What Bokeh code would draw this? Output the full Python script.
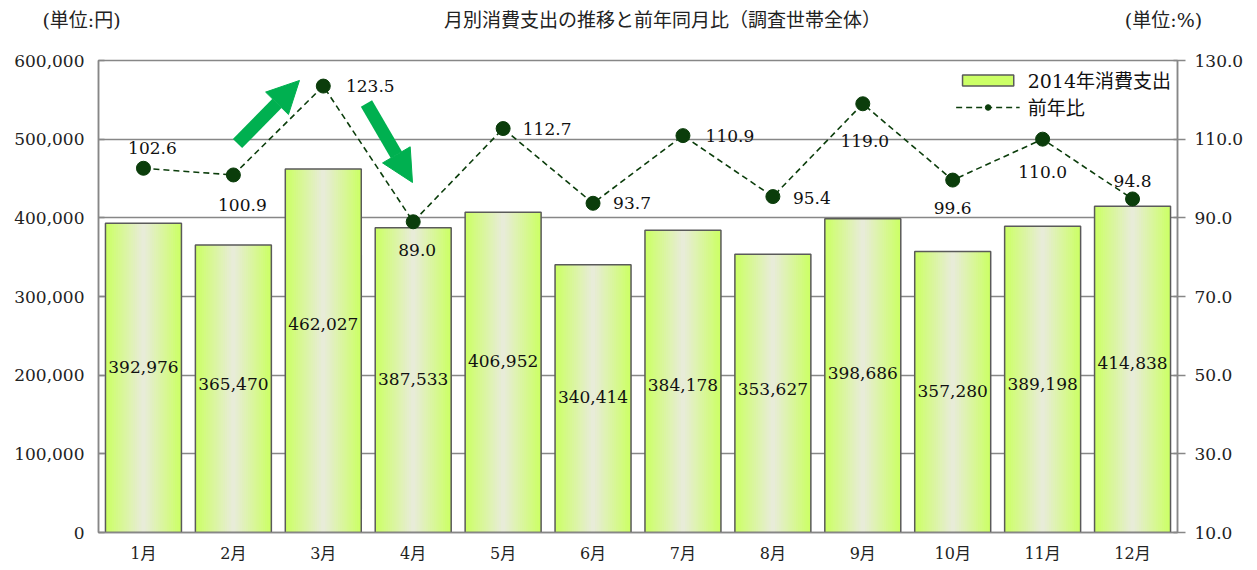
from bokeh.plotting import figure
from bokeh.models import (ColumnDataSource, Range1d, LinearAxis, FixedTicker, NumeralTickFormatter,
                          Legend, LegendItem, LabelSet, Arrow, NormalHead)
from bokeh.core.properties import value
from bokeh.embed import file_html
from bokeh.resources import INLINE

# ---- data ----
title_text = "月別消費支出の推移と前年同月比（調査世帯全体）"
unit_left = "(単位:円)"
unit_right = "(単位:%)"
months = ["1月", "2月", "3月", "4月", "5月", "6月", "7月", "8月", "9月", "10月", "11月", "12月"]
spending_2014 = [392976, 365470, 462027, 387533, 406952, 340414, 384178, 353627, 398686, 357280, 389198, 414838]
yoy_ratio = [102.6, 100.9, 123.5, 89.0, 112.7, 93.7, 110.9, 95.4, 119.0, 99.6, 110.0, 94.8]
left_ticks = [0, 100000, 200000, 300000, 400000, 500000, 600000]
right_ticks = [10, 30, 50, 70, 90, 110, 130]

# ---- style ----
FONT = "'DejaVu Serif', 'Noto Sans CJK JP'"
GRAY = "#878787"
EDGE = (204, 255, 102)
CENTER = (232, 236, 216)
BAR_W = 0.845
FS = "17px"
# label placements (screen px offsets, right/up positive)
ratio_label_dx = [9, 9, 47, 4, 44, 39, 47, 39, 2, 0, 0, 0]
ratio_label_dy = [20, -30, 0, -28, 0, 0, 0, -1, -37, -28, -33, 18]
bar_label_dy = [11, 5, 27, 1, 11, 2, -4, 4, 3, 1, -5, 6]
# header row text positions (px from the frame's left edge)
header_pos = [2, 564, 1065]

x = list(range(1, len(months) + 1))
src = ColumnDataSource(dict(
    x=x, top=spending_2014, mid=[v / 2 for v in spending_2014],
    blab=[f"{v:,}" for v in spending_2014], bdy=bar_label_dy,
    r=yoy_ratio, rlab=[f"{v:.1f}" for v in yoy_ratio], rdx=ratio_label_dx, rdy=ratio_label_dy,
))

p = figure(width=1249, height=566, output_backend="svg", toolbar_location=None,
           x_range=Range1d(0.5, 12.5), y_range=Range1d(0, 600000),
           min_border_left=98, min_border_right=72, min_border_top=60, min_border_bottom=34)
p.extra_y_ranges = {"pct": Range1d(10, 130)}
p.extra_x_ranges = {"hdr": Range1d(0, 1079)}
p.outline_line_color = GRAY
p.outline_line_width = 1.5
p.background_fill_color = "white"

# grid
p.xgrid.visible = False
p.ygrid.grid_line_color = GRAY
p.ygrid.grid_line_width = 1.5
p.ygrid.ticker = FixedTicker(ticks=left_ticks)

# left axis
ya = p.yaxis[0]
ya.ticker = FixedTicker(ticks=left_ticks)
ya.formatter = NumeralTickFormatter(format="0,0")
ya.axis_line_color = GRAY
ya.axis_line_width = 1.5
ya.major_tick_line_color = GRAY
ya.major_tick_line_width = 1.5
ya.major_tick_in = 6
ya.major_tick_out = 0
ya.minor_tick_line_color = None
ya.major_label_standoff = 14
ya.major_label_text_font = FONT
ya.major_label_text_font_size = FS
ya.major_label_text_color = "#222222"

# bottom axis
xa = p.xaxis[0]
xa.ticker = FixedTicker(ticks=x)
xa.major_label_overrides = {i: m for i, m in zip(x, months)}
xa.axis_line_color = GRAY
xa.axis_line_width = 1.5
xa.major_tick_line_color = None
xa.major_tick_in = 0
xa.major_tick_out = 0
xa.minor_tick_line_color = None
xa.major_label_standoff = 11
xa.major_label_text_font = FONT
xa.major_label_text_font_size = "16px"
xa.major_label_text_color = "#222222"

# right axis
ra = LinearAxis(y_range_name="pct", ticker=FixedTicker(ticks=right_ticks),
                formatter=NumeralTickFormatter(format="0.0"))
ra.axis_line_color = GRAY
ra.axis_line_width = 1.5
ra.major_tick_line_color = GRAY
ra.major_tick_line_width = 1.5
ra.major_tick_in = 4
ra.major_tick_out = 8
ra.minor_tick_line_color = None
ra.major_label_standoff = 9
ra.major_label_text_font = FONT
ra.major_label_text_font_size = FS
ra.major_label_text_color = "#222222"
p.add_layout(ra, "right")

# header row (units + title) as a tick-label-only axis above the frame
ha = LinearAxis(x_range_name="hdr", ticker=FixedTicker(ticks=header_pos))
ha.major_label_overrides = {header_pos[0]: unit_left + "\u3000\u3000",
                            header_pos[1]: title_text,
                            header_pos[2]: unit_right}
ha.axis_line_color = None
ha.major_tick_line_color = None
ha.minor_tick_line_color = None
ha.major_tick_in = 0
ha.major_tick_out = 0
ha.major_label_standoff = 30
ha.major_label_text_font = FONT
ha.major_label_text_font_size = "19px"
ha.major_label_text_color = "#222222"
p.add_layout(ha, "above")

# bars with simulated horizontal gradient
N = 18
layers = []
for i in range(N):
    t = i / (N - 1)
    c = tuple(int(round(EDGE[k] * (1 - t) + CENTER[k] * t)) for k in range(3))
    w = BAR_W * (1 - i / N)
    r = p.vbar(x="x", top="top", width=w, bottom=0, source=src,
               fill_color="#%02x%02x%02x" % c, line_color=None)
    layers.append(r)
outline = p.vbar(x="x", top="top", width=BAR_W, bottom=0, source=src,
                 fill_color=None, line_color="#5a5a5a", line_width=1.5)

# bar labels
p.add_layout(LabelSet(x="x", y="mid", text="blab", source=src, y_offset="bdy",
                      text_align="center", text_baseline="middle",
                      text_font=value(FONT), text_font_size=value(FS), text_color="#111111"))

# ratio line
ln = p.line(x="x", y="r", source=src, y_range_name="pct", line_color="#0b3d0b",
            line_width=1.6, line_dash="6 4")
pts = p.scatter(x="x", y="r", source=src, y_range_name="pct", size=14,
                fill_color="#0b3d0b", line_color="#0b3d0b")
p.add_layout(LabelSet(x="x", y="r", text="rlab", source=src, y_range_name="pct",
                      x_offset="rdx", y_offset="rdy",
                      text_align="center", text_baseline="middle",
                      text_font=value(FONT), text_font_size=value(FS), text_color="#111111"))

# green trend arrows (annotations)
ARROW_GREEN = "#00b050"
for (xs, ys, xe, ye) in [(2.046, 494500, 2.735, 574600), (3.480, 545300, 3.992, 444900)]:
    p.add_layout(Arrow(x_start=xs, y_start=ys, x_end=xe, y_end=ye,
                       line_color=ARROW_GREEN, line_width=13,
                       end=NormalHead(size=32, fill_color=ARROW_GREEN, line_color=ARROW_GREEN)))

# legend
legend = Legend(items=[LegendItem(label="2014年消費支出", renderers=[layers[0], outline]),
                       LegendItem(label="前年比", renderers=[ln, pts])],
                location="top_right", border_line_color=None, background_fill_alpha=1.0,
                label_text_font=FONT, label_text_font_size="19px", label_text_color="#111111",
                glyph_width=64, glyph_height=14, spacing=-4, padding=4, margin=6,
                label_standoff=8)
p.add_layout(legend)

open("out.html", "w").write(file_html(p, INLINE))
